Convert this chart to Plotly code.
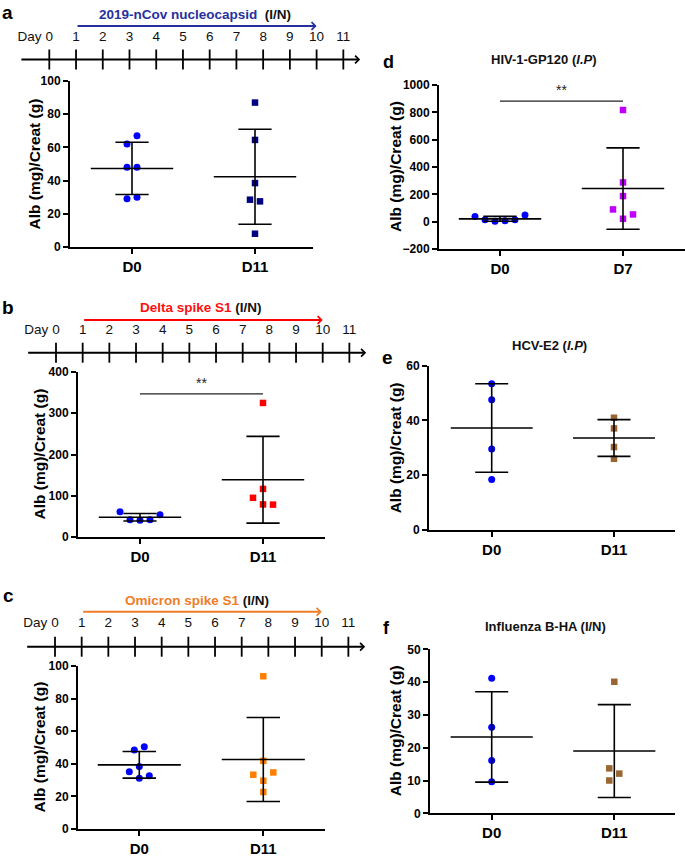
import numpy as np
import plotly.graph_objects as go

W, H = 685, 857
FONT = "Liberation Sans, Arial, Helvetica, sans-serif"

# ---------------- data ----------------
DAYS = list(range(12))
IMMUN_START, IMMUN_END = 1, 10

TITLE_A = "2019-nCov nucleocapsid"
TITLE_B = "Delta spike S1"
TITLE_C = "Omicron spike S1"
ROUTE_A = "(I/N)"
TITLE_D = "HIV-1-GP120"
TITLE_E = "HCV-E2"
TITLE_F = "Influenza B-HA (I/N)"
YTITLE = "Alb (mg)/Creat (g)"

CAT_A = ["D0", "D11"]
A_D0 = [67, 62, 48, 48, 30, 29]
A_D11 = [87, 64.5, 38.5, 27.5, 28.5, 8]

CAT_B = ["D0", "D11"]
B_D0 = [40.5, 42, 42, 61, 54]
B_D11 = [325, 116.5, 79, 95, 78.5]
B_SIG = 347

CAT_C = ["D0", "D11"]
C_D0 = [50.4, 48.4, 38.4, 35.1, 31.2, 32.7]
C_D11 = [93.7, 41.8, 29.6, 33.3, 34.7, 22.7]

CAT_D = ["D0", "D7"]
D_D0 = [7, 3, 14, 14, 48, 37]
D_D7 = [817, 287, 187, 21, 89.5, 53]
D_SIG = 882

CAT_E = ["D0", "D11"]
E_D0 = [53.4, 47.6, 29.6, 18.4]
E_D11 = [41.0, 37.1, 30.3, 26.0]

CAT_F = ["D0", "D11"]
F_D0 = [41.2, 26.2, 16.1, 9.6]
F_D11 = [40.1, 12.1, 13.7, 10.0]

# ---------------- styles ----------------
BLUE = "#0000FF"
NAVY = "#000080"
RED = "#FF0000"
ORANGE = "#FF8000"
PURPLE = "#BF00FF"
BROWN = "#996633"
T_BLUE = "#26309C"
T_RED = "#FF1010"
T_ORANGE = "#F07D28"


def px(x):
    return x / W


def py(y):
    return 1 - y / H


def swarm(vals, dunits, step):
    cols = []
    placed = []
    cands = [0]
    for i in range(1, 20):
        cands += [-i, i]
    for v in vals:
        for c in cands:
            if all(not (pc == c and abs(pv - v) < dunits) for pv, pc in placed):
                break
        placed.append((v, c))
        cols.append(c)
    order = sorted(range(len(vals)), key=lambda i: vals[i])
    comps, cur = [], [order[0]]
    for a, b in zip(order, order[1:]):
        if vals[b] - vals[a] < dunits:
            cur.append(b)
        else:
            comps.append(cur)
            cur = [b]
    comps.append(cur)
    offs = [0.0] * len(vals)
    for comp in comps:
        cs = [cols[i] for i in comp]
        shift = (max(cs) + min(cs)) / 2
        for i in comp:
            offs[i] = (cols[i] - shift) * step
    return offs


def paper_text(x, y, text, size, color="black", angle=0, xanchor="center"):
    fig.add_annotation(x=px(x), y=py(y), xref="paper", yref="paper", text=text,
                       showarrow=False, xanchor=xanchor, yanchor="middle",
                       textangle=angle, font=dict(family=FONT, size=size, color=color))


fig = go.Figure()

# panel geometry in pixels: left, right, top, bottom, x of cat0, x of cat1
panels = [
    dict(cats=CAT_A, groups=[(A_D0, BLUE, "circle"), (A_D11, NAVY, "square")],
         box=(70, 313, 81, 247, 132, 255), yr=(0, 100), dtick=20, sig=None,
         ytx=34.5),
    dict(cats=CAT_B, groups=[(B_D0, BLUE, "circle"), (B_D11, RED, "square")],
         box=(78, 325, 372, 537, 140, 263), yr=(0, 400), dtick=100, sig=B_SIG,
         ytx=39),
    dict(cats=CAT_C, groups=[(C_D0, BLUE, "circle"), (C_D11, ORANGE, "square")],
         box=(78, 325, 666, 829, 139.3, 263.3), yr=(0, 100), dtick=20, sig=None,
         ytx=39),
    dict(cats=CAT_D, groups=[(D_D0, BLUE, "circle"), (D_D7, PURPLE, "square")],
         box=(439, 685, 85, 249, 500, 623), yr=(-200, 1000), dtick=200, sig=D_SIG,
         ytx=395),
    dict(cats=CAT_E, groups=[(E_D0, BLUE, "circle"), (E_D11, BROWN, "square")],
         box=(429, 675, 365.7, 530, 491.7, 614), yr=(0, 60), dtick=20, sig=None,
         ytx=395.5),
    dict(cats=CAT_F, groups=[(F_D0, BLUE, "circle"), (F_D11, BROWN, "square")],
         box=(430, 675, 649.3, 813.3, 491.7, 614.3), yr=(0, 50), dtick=10, sig=None,
         ytx=395),
]

axfont = dict(family=FONT, color="black", weight="bold")
layout_axes = {}
for k, p in enumerate(panels, start=1):
    L, R, T, B, x0, x1 = p["box"]
    ppc = x1 - x0
    xr = [(L - x0) / ppc, (R - x0) / ppc]
    y0, y1 = p["yr"]
    dunits = (y1 - y0) * 10.0 / (B - T)
    step = 10.0 / ppc
    xa, ya = f"x{k}", f"y{k}"
    for i, (vals, col, sym) in enumerate(p["groups"]):
        offs = swarm(vals, dunits, step)
        fig.add_trace(go.Scatter(
            x=[i + o for o in offs], y=vals, mode="markers", xaxis=xa, yaxis=ya,
            marker=dict(color=col, symbol=sym, size=7 if sym == "circle" else 6.5,
                        line=dict(width=0)),
            cliponaxis=False, showlegend=False, hoverinfo="skip"))
    # mean +/- SD
    lx, lyv = [], []
    for i, (vals, col, sym) in enumerate(p["groups"]):
        m = float(np.mean(vals))
        s = float(np.std(vals, ddof=1))
        lx += [i - 0.335, i + 0.335, None, i - 0.135, i + 0.135, None,
               i - 0.135, i + 0.135, None, i, i, None]
        lyv += [m, m, None, m + s, m + s, None, m - s, m - s, None, m - s, m + s, None]
    fig.add_trace(go.Scatter(x=lx, y=lyv, mode="lines", xaxis=xa, yaxis=ya,
                             line=dict(color="black", width=1.6),
                             cliponaxis=False, showlegend=False, hoverinfo="skip"))
    if p["sig"] is not None:
        fig.add_trace(go.Scatter(x=[0, 1], y=[p["sig"], p["sig"]], mode="lines",
                                 xaxis=xa, yaxis=ya,
                                 line=dict(color="#222", width=1.4),
                                 cliponaxis=False, showlegend=False, hoverinfo="skip"))
        fig.add_annotation(x=0.5, y=p["sig"], xref=xa, yref=ya, text="**",
                           showarrow=False, yanchor="bottom", yshift=1,
                           font=dict(family=FONT, size=14, color="#222"))
    layout_axes[f"xaxis{k}"] = dict(
        domain=[px(L), px(R)], range=xr, anchor=ya, tickvals=[0, 1],
        ticktext=p["cats"], showgrid=False, zeroline=False, showline=True,
        linecolor="black", linewidth=2, ticks="outside", ticklen=5, tickwidth=2,
        tickcolor="black", tickfont=dict(size=15, **axfont), fixedrange=True,
        ticklabelstandoff=0, automargin=False)
    layout_axes[f"yaxis{k}"] = dict(
        domain=[py(B), py(T)], range=[y0, y1], anchor=xa, tick0=y0, dtick=p["dtick"],
        showgrid=False, zeroline=False, showline=True, linecolor="black",
        linewidth=2, ticks="outside", ticklen=5, tickwidth=2, tickcolor="black",
        tickfont=dict(size=12, **axfont), fixedrange=True, automargin=False)
    paper_text(p["ytx"], (T + B) / 2, f"<b>{YTITLE}</b>", 15.5, angle=-90)

# ---------------- timelines ----------------
timelines = [
    dict(day0=49.3, ppd=26.73, liney=59.5, labely=38, arry=26, titley=15, titlex=194.5,
         title=TITLE_A, tcol=T_BLUE, acol=T_BLUE, route=ROUTE_A, sep="&nbsp;&nbsp;"),
    dict(day0=56.0, ppd=26.67, liney=352.7, labely=330.7, arry=320, titley=307.3,
         titlex=201, title=TITLE_B, tcol=T_RED, acol=RED, route=ROUTE_A, sep="&nbsp;"),
    dict(day0=55.0, ppd=26.67, liney=646.7, labely=623.3, arry=611.7, titley=600.7,
         titlex=196.7, title=TITLE_C, tcol=T_ORANGE, acol=T_ORANGE, route=ROUTE_A,
         sep="&nbsp;"),
]
layout_axes["yaxis7"] = dict(domain=[0, 1], range=[H, 0], visible=False,
                             anchor="x7", fixedrange=True, automargin=False)
for j, t in enumerate(timelines):
    k = 7 + j
    xa = f"x{k}"
    layout_axes[f"xaxis{k}"] = dict(
        domain=[0, px(370)], range=[(0 - t["day0"]) / t["ppd"], (370 - t["day0"]) / t["ppd"]],
        visible=False, anchor="y7", fixedrange=True, automargin=False)
    ly = t["liney"]
    tx, tyv = [], []
    for d in DAYS:
        tx += [d, d, None]
        tyv += [ly - 10, ly + 10, None]
    fig.add_trace(go.Scatter(x=tx, y=tyv, mode="lines", xaxis=xa, yaxis="y7",
                             line=dict(color="black", width=1.8), cliponaxis=False,
                             showlegend=False, hoverinfo="skip"))
    fig.add_trace(go.Scatter(x=DAYS, y=[t["labely"]] * len(DAYS), mode="text",
                             text=[str(d) for d in DAYS], xaxis=xa, yaxis="y7",
                             textfont=dict(family=FONT, size=13.5, color="#111"),
                             cliponaxis=False, showlegend=False, hoverinfo="skip"))
    fig.add_trace(go.Scatter(x=[-0.74], y=[t["labely"]], mode="text", text=["Day"],
                             xaxis=xa, yaxis="y7",
                             textfont=dict(family=FONT, size=13.5, color="#111"),
                             cliponaxis=False, showlegend=False, hoverinfo="skip"))
    fig.add_annotation(x=11.63, y=ly, ax=-1.1, ay=ly, xref=xa, yref="y7",
                       axref=xa, ayref="y7", text="", showarrow=True, arrowhead=4,
                       arrowsize=0.75, arrowwidth=2, arrowcolor="black", standoff=0,
                       startstandoff=0)
    fig.add_annotation(x=IMMUN_END, y=t["arry"], ax=IMMUN_START, ay=t["arry"],
                       xref=xa, yref="y7", axref=xa, ayref="y7", text="",
                       showarrow=True, arrowhead=4, arrowsize=0.75, arrowwidth=2,
                       arrowcolor=t["acol"], standoff=0, startstandoff=0)
    paper_text(t["titlex"], t["titley"],
               f"<b><span style='color:{t['tcol']}'>{t['title']}</span>{t['sep']}{t['route']}</b>",
               13.5, color="#111")

paper_text(543.5, 59.5, f"<b>{TITLE_D} (<i>I.P</i>)</b>", 13, color="#111")
paper_text(549, 346, f"<b>{TITLE_E} (<i>I.P</i>)</b>", 13, color="#111")
paper_text(545.5, 626, f"<b>{TITLE_F}</b>", 13, color="#111")

for letter, lx_, ly_, sz in [("a", 0, 13, 19), ("b", 0, 307.5, 19), ("c", 1, 595.5, 19),
                             ("d", 381, 62, 18), ("e", 380, 357, 19), ("f", 381, 628, 18)]:
    paper_text(lx_, ly_, f"<b>{letter}</b>", sz, xanchor="left")

fig.update_layout(
    template="none",
    width=W, height=H, autosize=False, margin=dict(l=0, r=0, t=0, b=0, pad=0),
    paper_bgcolor="white", plot_bgcolor="rgba(0,0,0,0)", showlegend=False,
    font=dict(family=FONT), **layout_axes)

fig.write_html("out.html", config={"displayModeBar": False},
               post_script="document.body.style.margin='0';")
